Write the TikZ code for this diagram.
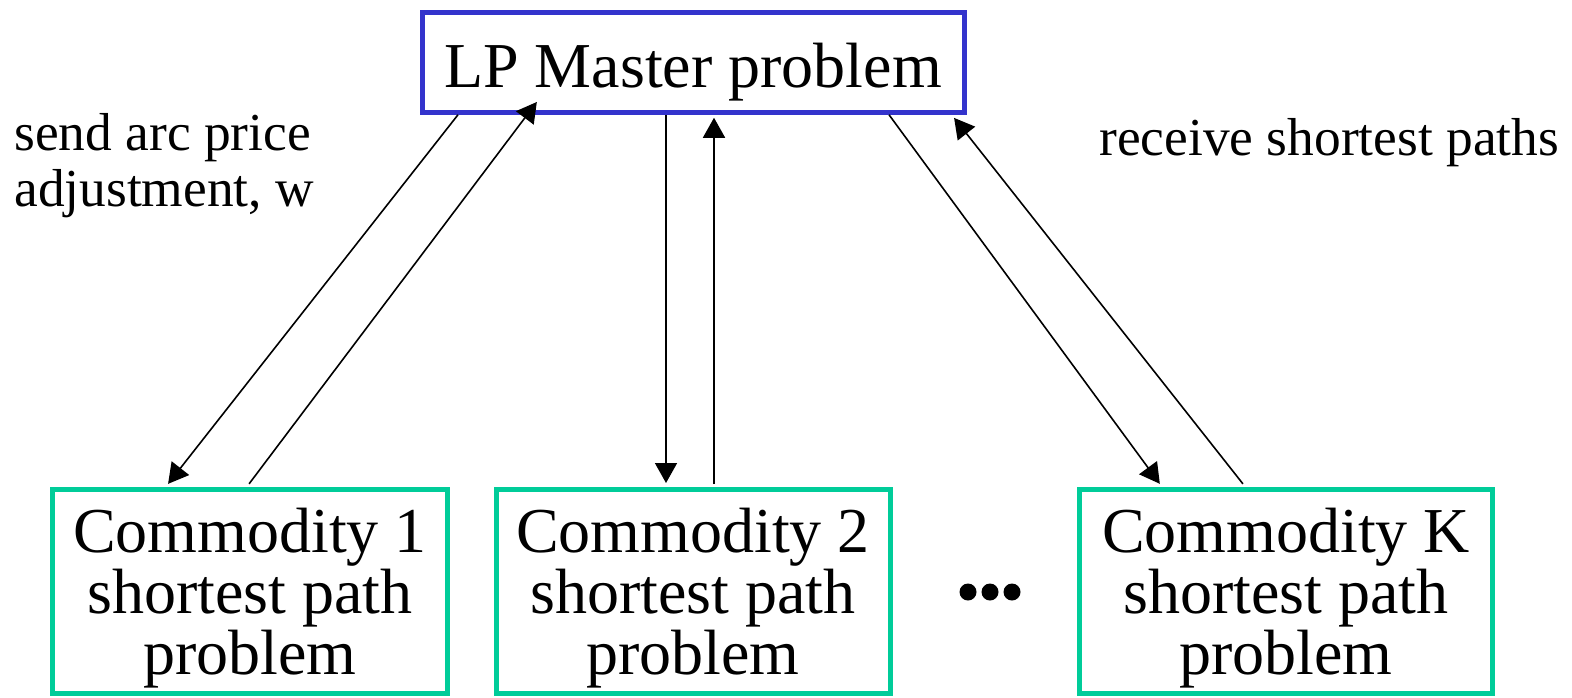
\documentclass[tikz,border=0pt]{standalone}
\usepackage{fontspec}
\setmainfont{Liberation Serif}
\usepackage{xcolor}
\usepackage{tikz}
\usetikzlibrary{arrows.meta}

\definecolor{masterblue}{RGB}{51,51,204}
\definecolor{subgreen}{RGB}{0,204,153}

\begin{document}
\begin{tikzpicture}[x=0.5pt, y=-0.5pt]
    % Define styles
    \tikzstyle{master} = [rectangle, draw=masterblue, line width=2.5pt, minimum width=271pt, minimum height=50pt, inner sep=0pt, text height=31.9pt, text depth=6.9pt, font=\fontsize{32}{30}\selectfont]
    \tikzstyle{commodity} = [rectangle, draw=subgreen, line width=2.5pt, minimum height=102pt, inner sep=0pt, align=center, font=\fontsize{32}{30.5}\selectfont]
    \tikzstyle{note} = [inner sep=0pt, align=left, font=\fontsize{26.7}{28}\selectfont]
    \tikzstyle{arrow} = [-{Triangle[length=10pt, width=11pt]}, line width=0.8pt]

    \useasboundingbox (0,0) rectangle (1572,697);

    % Master problem
    \node[master] (master) at (693,62.25) {LP Master problem};

    % Subproblems
    \node[commodity, minimum width=197.5pt] (com1) at (250,591.5) {\rule{0pt}{28.4pt}Commodity 1\\shortest path\\problem};
    \node[commodity, minimum width=197pt] (com2) at (693,591.5) {\rule{0pt}{28.4pt}Commodity 2\\shortest path\\problem};
    \node[commodity, minimum width=206.5pt] (comK) at (1286,591.5) {\rule{0pt}{28.4pt}Commodity K\\shortest path\\problem};
    \foreach \x in {968,990,1012}
        \fill (\x,592) circle (4.25pt);

    % Labels
    \node[note, anchor=north west] (send) at (14,113.5) {send arc price\\adjustment, w};
    \node[note, anchor=base west] (receive) at (1099,155) {receive shortest paths};

    % Arrows
    \draw[arrow, shorten >=2pt] ([xshift=-117.5pt]master.south) -- ([xshift=-42.2pt]com1.north);
    \draw[arrow, shorten <=2pt, shorten >=-8pt] ([xshift=-1.65pt]com1.north) -- ([xshift=-82.9pt]master.south);
    \draw[arrow, shorten >=2pt] ([xshift=-13.5pt]master.south) -- ([xshift=-13.5pt]com2.north);
    \draw[arrow, shorten <=1.5pt, shorten >=1.5pt] ([xshift=10.5pt]com2.north) -- ([xshift=10.5pt]master.south);
    \draw[arrow, shorten >=2pt] ([xshift=98pt]master.south) -- ([xshift=-61.9pt]comK.north);
    \draw[arrow, shorten <=2pt, shorten >=2pt] ([xshift=-20.3pt]comK.north) -- ([xshift=129.3pt]master.south);
\end{tikzpicture}
\end{document}
